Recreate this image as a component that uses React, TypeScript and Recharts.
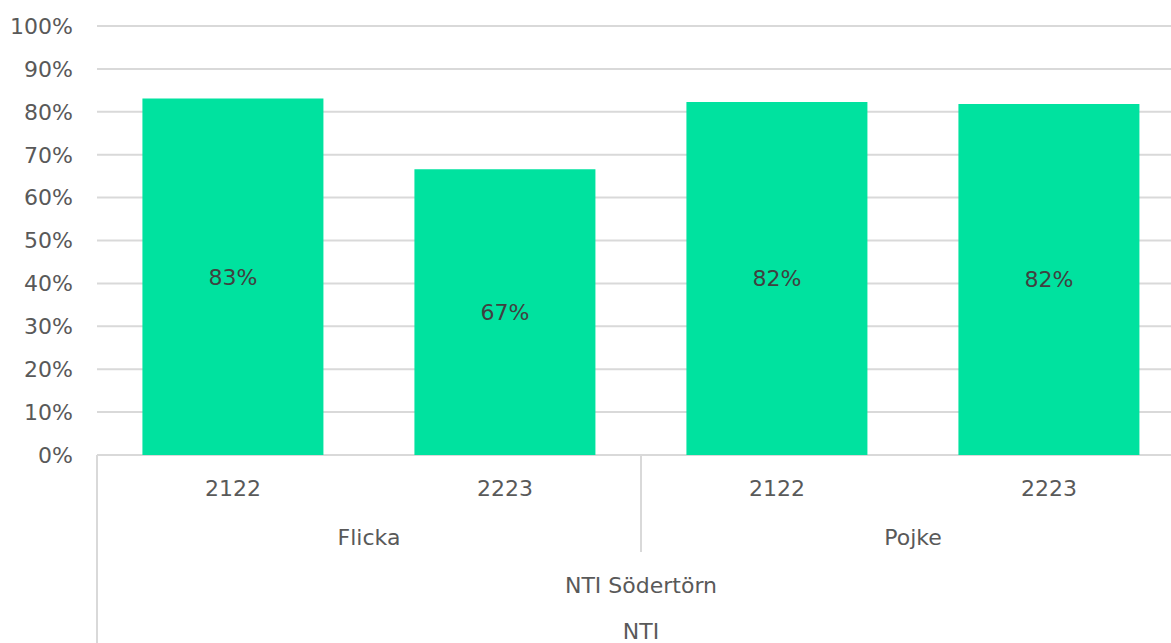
import React from "react"
import { Bar, BarChart, CartesianGrid, LabelList, XAxis, YAxis } from "recharts"

// values (percent)
const years = ["2122", "2223", "2122", "2223"]
const genders = ["Flicka", "Flicka", "Pojke", "Pojke"]
const school = "NTI Södertörn"
const org = "NTI"
const shares = [83.1, 66.6, 82.3, 81.8]
const yTicks = [0, 10, 20, 30, 40, 50, 60, 70, 80, 90, 100]

const data = years.map((year, i) => ({
  key: `${genders[i]} ${year}`,
  year,
  gender: genders[i],
  value: shares[i],
}))

const CHART_W = 1185
const CHART_H = 643
const AXIS_W = 97
const BAND = (CHART_W - AXIS_W) / data.length
const FONT = "'DejaVu Sans', sans-serif"
const TEXT = "#595959"
const LINE = "#D9D9D9"

function MultiLevelTick(props: any) {
  const { x, y, payload } = props
  const i = payload?.index ?? props.index
  const half = BAND / 2
  const first = i === 0 || genders[i] !== genders[i - 1]
  const groupSize = genders.filter((g) => g === genders[i]).length
  const txt = { fill: TEXT, fontSize: 22, fontFamily: FONT, textAnchor: "middle" as const }

  return (
    <g>
      <text x={x} y={y + 41} {...txt}>
        {years[i]}
      </text>
      {first && (
        <text x={x - half + (groupSize * BAND) / 2} y={y + 90} {...txt}>
          {genders[i]}
        </text>
      )}
      {first && i > 0 && <line x1={x - half} x2={x - half} y1={y} y2={y + 97} stroke={LINE} strokeWidth={2} />}
      {i === 0 && (
        <>
          <line x1={x - half} x2={x - half} y1={y} y2={y + 220} stroke={LINE} strokeWidth={2} />
          <text x={x - half + (data.length * BAND) / 2} y={y + 138} {...txt}>
            {school}
          </text>
          <text x={x - half + (data.length * BAND) / 2} y={y + 184} {...txt}>
            {org}
          </text>
        </>
      )}
    </g>
  )
}

export default function App() {
  return (
    <div
      style={{
        position: "absolute",
        left: 0,
        top: 0,
        width: 1171,
        height: 643,
        overflow: "hidden",
        background: "#fff",
      }}
    >
      <BarChart
        width={CHART_W}
        height={CHART_H}
        data={data}
        margin={{ top: 26, right: 0, left: 0, bottom: 0 }}
        barCategoryGap="16.7%"
      >
        <CartesianGrid vertical={false} stroke={LINE} strokeWidth={2} />
        <XAxis
          dataKey="key"
          height={188}
          interval={0}
          axisLine={false}
          tickLine={false}
          tickSize={0}
          tickMargin={0}
          tick={<MultiLevelTick />}
        />
        <YAxis
          width={AXIS_W}
          domain={[0, 100]}
          ticks={yTicks}
          interval={0}
          axisLine={false}
          tickLine={false}
          tickSize={0}
          tickMargin={24}
          tickFormatter={(v) => `${v}%`}
          tick={{ fill: TEXT, fontSize: 22, fontFamily: FONT }}
        />
        <Bar dataKey="value" fill="#00E29F" isAnimationActive={false}>
          <LabelList
            dataKey="value"
            position="center"
            formatter={(v: any) => `${Math.round(v)}%`}
            style={{ fill: "#404040", fontSize: 22, fontFamily: FONT }}
          />
        </Bar>
      </BarChart>
    </div>
  )
}
